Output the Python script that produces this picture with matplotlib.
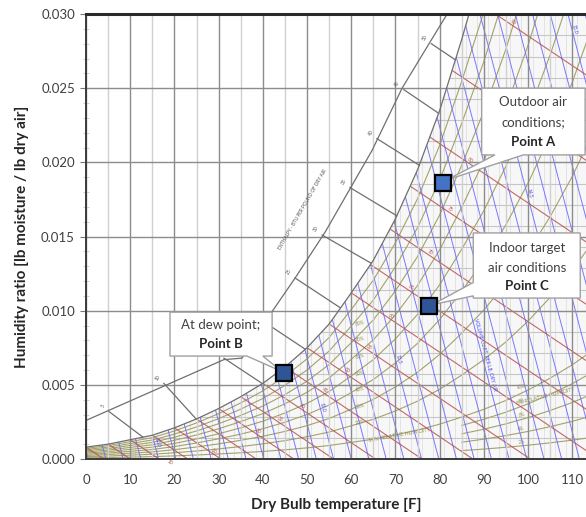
import numpy as np
import matplotlib.pyplot as plt
from matplotlib.patches import Polygon
from matplotlib.collections import LineCollection
from matplotlib.ticker import FormatStrFormatter, MultipleLocator

plt.rcParams['font.family'] = ['Lato', 'DejaVu Sans']

# saturation curve (dry bulb F, lb moisture / lb dry air)
sat_t = [0, 5, 10, 15, 20, 25, 30, 35, 40, 45, 50, 55, 60, 65, 70, 75, 80, 85,
         90, 95, 100, 105, 110, 115]
sat_w = [0.0008, 0.0010, 0.0013, 0.0016, 0.0021, 0.0027, 0.0034, 0.0042, 0.0051,
         0.0062, 0.0075, 0.0091, 0.0112, 0.0134, 0.0162, 0.0195, 0.0235, 0.0283,
         0.0335, 0.0395, 0.0465, 0.0545, 0.0635, 0.0740]

rh_levels = [10, 20, 30, 40, 50, 60, 70, 80, 90]
low_rh_levels = [2, 4, 6, 8]

# wet bulb lines (red), start point on the saturation curve
wb_t = [0, 5, 10, 15, 20, 25, 30, 35, 40, 45, 50, 55, 60, 64.4, 68.8, 73.3, 77.8, 82.8, 87.6]
wb_w = [0.0008, 0.0010, 0.0013, 0.0016, 0.0021, 0.0027, 0.0034, 0.0042, 0.0051, 0.0062,
        0.0075, 0.0091, 0.0112, 0.0131, 0.0155, 0.0184, 0.0217, 0.0262, 0.0310]
wb_labels = ['', '', '10', '', '20', '', '30', '35', '40', '45', '50', '55', '60', '65',
             '70', '75', '80', '85', '90']
wb_slope = -0.0002

# specific volume lines (blue), dry bulb where each meets W = 0
vol_t0 = [0.5, 4.5, 8.4, 12.4, 16.4, 20.3, 24.3, 28.3, 32.2, 36.2, 40.2, 44.1, 48.1, 52.1,
          56.0, 60.0, 64.0, 67.9, 71.9, 75.9, 79.8, 83.8, 87.8, 91.7, 95.7, 99.7, 103.6,
          107.6, 111.6, 115.5, 119.5, 123.5, 127.4, 131.4, 135.4, 139.3]
vol_slope = -880.0
vol_labels = ['12.0', '13.0', '13.5', '14.5', '15.0']
vol_label_t0 = [16.4, 56.0, 75.9, 115.5, 135.4]
vol_label_w = [0.0011, 0.0035, 0.0067, 0.0179, 0.0290]

# enthalpy scale line and its tick lines
scale_t = [0, 31.2, 35.3, 42.0, 47.3, 54.1, 64.7, 71.5, 77.8, 81.7]
scale_w = [0.0026, 0.0067, 0.0068, 0.0099, 0.0122, 0.0153, 0.0208, 0.0250, 0.0281, 0.0300]
enth_labels = [5, 10, 15, 20, 25, 30, 35, 40, 45, 50]
enth_scale_t = [5.2, 17.6, 31.2, 40.5, 47.3, 53.4, 59.7, 65.8, 71.9, 78.1]
enth_scale_w = [0.0032, 0.0051, 0.0068, 0.0092, 0.0122, 0.0151, 0.0183, 0.0216, 0.0249, 0.0280]
enth_sat_t = [12.9, 24.9, 39.8, 49.6, 57.5, 64.5, 70.3, 75.4, 79.8, 83.6]
enth_sat_w = [0.00147, 0.0027, 0.0051, 0.0074, 0.0102, 0.0132, 0.0164, 0.0198, 0.0233, 0.0269]

# the three marked states
pt_names = ['A', 'B', 'C']
pt_t = [80.8, 44.8, 77.6]
pt_w = [0.0186, 0.0058, 0.0103]
pt_fc = ['#4472c4', '#2f5597', '#2f5597']

fig = plt.figure(figsize=(5.86, 5.17), dpi=100)
ax = fig.add_axes([86 / 586, 1 - 459 / 517, 1 - 86 / 586, 445 / 517])
ax.set_xlim(0, 113.1)
ax.set_ylim(0, 0.030)

# axes grid
ax.xaxis.set_major_locator(MultipleLocator(10))
ax.xaxis.set_minor_locator(MultipleLocator(5))
ax.yaxis.set_major_locator(MultipleLocator(0.005))
ax.yaxis.set_minor_locator(MultipleLocator(0.001))
ax.yaxis.set_major_formatter(FormatStrFormatter('%.3f'))
ax.grid(which='major', color='#8c8c8c', lw=1.0)
ax.grid(which='minor', axis='x', color='#d0d0d0', lw=1.0)
ax.tick_params(axis='x', which='both', length=0, pad=11, labelsize=9.5, labelcolor='#404040')
ax.tick_params(axis='y', which='major', length=4, color='#777777', pad=4, labelsize=9.5,
               labelcolor='#404040')
ax.tick_params(axis='y', which='minor', length=4, direction='inout', color='#c8c8c8')
for s in ['left', 'bottom']:
    ax.spines[s].set_color('#3a3a3a')
    ax.spines[s].set_linewidth(1.4)
ax.spines['top'].set_color('#2a2a2a')
ax.spines['top'].set_linewidth(2.2)
ax.spines['right'].set_visible(False)

# saturated region (to the right of the saturation curve)
region = Polygon(list(zip(sat_t, sat_w)) + [(115, 0), (0, 0)], closed=True,
                 fc='#f7f7f7', ec='none', zorder=0.1)
ax.add_patch(region)

fine_v = LineCollection([[(x, 0), (x, 0.08)] for x in np.arange(1, 116, 2.5)],
                        colors='#e0e0e0', lw=0.6, zorder=0.6)
fine_h = LineCollection([[(0, y), (116, y)] for y in np.arange(0.001428, 0.08, 0.001428)],
                        colors='#c6c6c6', lw=0.8, zorder=0.6)
for lc in (fine_v, fine_h):
    ax.add_collection(lc)
    lc.set_clip_path(region)

# relative humidity lines
olive = '#a3a26a'
for rh in rh_levels:
    ax.plot(sat_t, [rh / 100 * w for w in sat_w], color=olive, lw=0.8, zorder=1.2)
i85 = sat_t.index(85)
for rh in low_rh_levels:
    ax.plot(sat_t[i85:], [rh / 100 * w for w in sat_w[i85:]], color=olive, lw=0.8, zorder=1.2)
w60 = sat_w[sat_t.index(60)]
for rh in rh_levels[1:8]:
    ax.text(62, rh / 100 * w60 + 0.0002, f'{rh}%', color='#8c8a50', fontsize=3.5,
            rotation=14, ha='center', va='center', zorder=1.3)
w100 = sat_w[sat_t.index(100)]
for rh in low_rh_levels + [10]:
    ax.text(98.5, rh / 100 * w100 + 0.0002, f'{rh}%', color='#8c8a50', fontsize=3.5,
            rotation=10, ha='center', va='center', zorder=1.3)
ax.text(71, 0.0016, '10% RELATIVE HUMIDITY', color='#8c8a50', fontsize=3.8, rotation=10,
        ha='center', va='center', zorder=1.3)
ax.text(104, 0.0042, '8% RELATIVE HUMIDITY', color='#8c8a50', fontsize=3.8, rotation=14,
        ha='center', va='center', zorder=1.3)

# wet bulb lines
red = '#b8504f'
for t0, w0, lab in zip(wb_t, wb_w, wb_labels):
    ln, = ax.plot([t0, t0 - w0 / wb_slope], [w0, 0], color=red, lw=0.8, alpha=0.85, zorder=1.4)
    ln.set_clip_path(region)
    if lab:
        ax.text(t0 + 9, w0 + wb_slope * 9 + 0.00025, lab, color=red, fontsize=3.5,
                rotation=-34, ha='center', va='center', zorder=1.5)

# specific volume lines
blue = '#6b6bff'
for t0 in vol_t0:
    ln, = ax.plot([t0, t0 + vol_slope * 0.04], [0, 0.04], color=blue, lw=0.7, alpha=0.9,
                  zorder=1.3)
    ln.set_clip_path(region)
for lab, t0, w in zip(vol_labels, vol_label_t0, vol_label_w):
    ax.text(t0 + vol_slope * w + 0.6, w, lab, color='#4a4aff', fontsize=3.5, rotation=-75,
            ha='center', va='center', zorder=1.5)
ax.text(95.7 + vol_slope * 0.0070 + 0.7, 0.0070, 'VOLUME CU.FT. PER LB. DRY AIR',
        color='#4a4aff', fontsize=3.5, rotation=-75, ha='center', va='center', zorder=1.5)

# saturation curve, enthalpy scale and its ticks
gray = '#6f6f6f'
ax.plot(sat_t, sat_w, color=gray, lw=0.9, zorder=1.6)
ax.plot(scale_t, scale_w, color=gray, lw=0.9, zorder=1.6)
for h, ts, ws, te, we in zip(enth_labels, enth_scale_t, enth_scale_w, enth_sat_t, enth_sat_w):
    ax.plot([ts, te], [ws, we], color=gray, lw=0.9, zorder=1.6)
    ax.text(ts - 1.4, ws + 0.0004, str(h), color='#555555', fontsize=3.5, rotation=58,
            ha='center', va='center', zorder=1.6)
ax.text(49.0, 0.0168, 'ENTHALPY - BTU PER POUND OF DRY AIR', color='#555555', fontsize=3.4,
        rotation=60, ha='center', va='center', zorder=1.6)

# callouts
box_ec = '#a0a0a0'


def callout(x0, y0, x1, y1, side, b0, b1, tip, lines):
    if side == 'bottom':
        verts = [(x0, y1), (x1, y1), (x1, y0), (b1, y0), tip, (b0, y0), (x0, y0)]
    else:
        verts = [(x0, y1), (x1, y1), (x1, y0), (x0, y0), (x0, b0), tip, (x0, b1)]
    ax.add_patch(Polygon(verts, closed=True, fc='white', ec=box_ec, lw=1.0, zorder=6))
    xc = (x0 + x1) / 2
    for txt, y, bold in lines:
        ax.text(xc, y, txt, ha='center', va='center', fontsize=9.5, zorder=7,
                color='#262626' if bold else '#404040',
                fontweight='bold' if bold else 'normal')


callout(89.5, 0.0205, 112.9, 0.0250, 'bottom', 92.5, 98.9, (81.5, 0.0188),
        [('Outdoor air', 0.0241, False), ('conditions;', 0.0227, False), ('Point A', 0.0214, True)])
callout(19.0, 0.00694, 42.1, 0.0099, 'bottom', 36.4, 40.0, (44.3, 0.0059),
        [('At dew point;', 0.00903, False), ('Point B', 0.00775, True)])
callout(87.6, 0.01085, 111.8, 0.01524, 'left', 0.0110, 0.0119, (78.3, 0.0104),
        [('Indoor target', 0.0142, False), ('air conditions', 0.0129, False), ('Point C', 0.01166, True)])

for t, w, fc in zip(pt_t, pt_w, pt_fc):
    ax.plot(t, w, 's', ms=11.5, mfc=fc, mec='black', mew=1.6, zorder=8)

ax.set_xlabel('Dry Bulb temperature [F]', fontsize=11, fontweight='bold', color='#262626',
              labelpad=8)
ax.set_ylabel('Humidity ratio [lb moisture / lb dry air]', fontsize=11, fontweight='bold',
              color='#262626', labelpad=9)

fig.savefig('out.png', dpi=100)
